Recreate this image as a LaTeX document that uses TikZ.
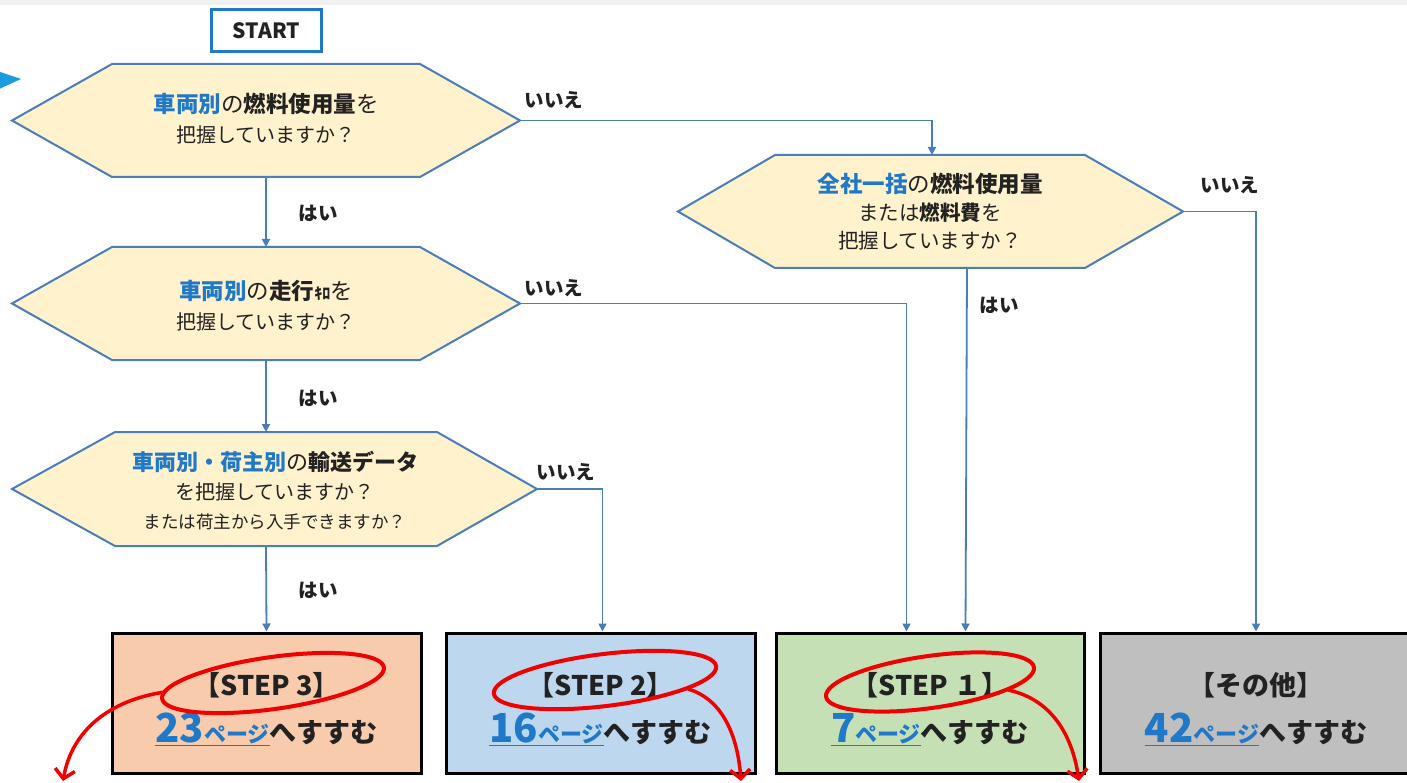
\documentclass[tikz,border=0pt]{standalone}
\usepackage{fontspec}
\setmainfont{Noto Sans CJK JP}
\usetikzlibrary{arrows.meta,calc}
\definecolor{cblue}{HTML}{1F78C8}
\definecolor{hexfill}{HTML}{FFF2CC}
\definecolor{hexline}{HTML}{4A7EBB}
\definecolor{connc}{HTML}{4A7EBB}
\definecolor{txt}{HTML}{222222}
\definecolor{stepthree}{HTML}{F8CBAD}
\definecolor{steptwo}{HTML}{BDD7EE}
\definecolor{stepone}{HTML}{C5E0B4}
\definecolor{stepother}{HTML}{BFBFBF}
\definecolor{redmark}{HTML}{F00000}
\definecolor{markblue}{HTML}{1A9BE0}
\newcommand{\pagelink}[1]{\textcolor{cblue}{\underline{{\fontsize{40}{40}\selectfont #1}{\fontsize{22}{22}\selectfont ページ}}}{\fontsize{27}{27}\selectfont へすすむ}}
\newcommand{\steptitle}[1]{\rule{0pt}{35pt}#1}
\begin{document}
\begin{tikzpicture}[x=1pt,y=-1pt,
  hexbox/.style={draw=hexline, fill=hexfill, line width=2pt, line join=miter},
  hextext/.style={align=center, text=txt, inner sep=0pt},
  conn/.style={draw=connc, line width=1.8pt, -{Triangle[length=8pt,width=8pt]}},
  lab/.style={text=txt, font=\fontsize{19.5}{19.5}\selectfont\bfseries, inner sep=0pt},
  stepbox/.style={draw=black, line width=3pt, minimum height=140pt, align=center, text=txt,
     font=\fontsize{27}{47}\selectfont\bfseries},
  redline/.style={draw=redmark, line width=4pt},
  redarrow/.style={draw=redmark, line width=3.5pt, -{Straight Barb[length=9pt,width=20pt]}}
]
\useasboundingbox (0,0) rectangle (1407,783);
\fill[white] (0,0) rectangle (1407,783);
\fill[black!6] (0,0) rectangle (1407,5);

% START
\node[draw=cblue, line width=3.5pt, minimum width=110pt, minimum height=42pt, inner sep=0pt,
  font=\fontsize{21}{21}\selectfont\bfseries, text=txt] (start) at (266.5,30.5) {START};

% blue marker
\fill[markblue] (-3,71) -- (21,79) -- (-3,90) -- cycle;

% Hexagon 1
\draw[hexbox] (12,120.5) -- (112,64) -- (420,64) -- (520,120.5) -- (420,177) -- (112,177) -- cycle;
\coordinate (h1r) at (520,120.5);
\coordinate (h1b) at (266,177);
\node[hextext, font=\fontsize{20}{30}\selectfont] (t1) at (266,119)
  {{\fontsize{22.5}{30}\selectfont\textcolor{cblue}{\bfseries 車両別}の{\bfseries 燃料使用量}を}\\
   把握していますか？};

% Hexagon 3 (second left)
\draw[hexbox] (12,303.5) -- (112,247) -- (420,247) -- (520,303.5) -- (420,360) -- (112,360) -- cycle;
\coordinate (h3t) at (266,247);
\coordinate (h3r) at (520,303.5);
\coordinate (h3b) at (266,360);
\node[hextext, font=\fontsize{20}{30}\selectfont] (t3) at (266,306)
  {{\fontsize{22.5}{30}\selectfont\textcolor{cblue}{\bfseries 車両別}の{\bfseries 走行}{\fontsize{16}{16}\selectfont\bfseries ｷﾛ}を}\\
   把握していますか？};

% Hexagon 4
\draw[hexbox] (12,489) -- (115,432) -- (437,432) -- (537,489) -- (437,546) -- (115,546) -- cycle;
\coordinate (h4t) at (266,432);
\coordinate (h4r) at (537,489);
\coordinate (h4b) at (266,546);
\node[hextext, font=\fontsize{20}{29}\selectfont] (t4) at (275,491)
  {{\fontsize{22}{29}\selectfont\textcolor{cblue}{\bfseries 車両別・荷主別}の{\bfseries 輸送データ}}\\
   を把握していますか？\\
   {\fontsize{17.5}{29}\selectfont または荷主から入手できますか？}};

% Hexagon 2 (right)
\draw[hexbox] (678,211.5) -- (775,155) -- (1085,155) -- (1183,211.5) -- (1085,268) -- (775,268) -- cycle;
\coordinate (h2t) at (932,155);
\coordinate (h2r) at (1183,211.5);
\coordinate (h2b) at (967,268);
\node[hextext, font=\fontsize{20.5}{28}\selectfont] (t2) at (930,212)
  {{\fontsize{22.5}{28}\selectfont\textcolor{cblue}{\bfseries 全社一括}の{\bfseries 燃料使用量}}\\
   または{\bfseries 燃料費}を\\
   把握していますか？};

% Result boxes
\node[stepbox, fill=stepthree, minimum width=309pt] (b1) at (266.5,703) {\steptitle{【STEP 3】}\\\pagelink{23}};
\node[stepbox, fill=steptwo, minimum width=309pt] (b2) at (600.5,703) {\steptitle{【STEP 2】}\\\pagelink{16}};
\node[stepbox, fill=stepone, minimum width=308pt] (b3) at (930,703) {\steptitle{【STEP １】}\\\pagelink{7}};
\node[stepbox, fill=stepother, minimum width=312pt] (b4) at (1256,703) {\steptitle{【その他】}\\\pagelink{42}};

\coordinate (b3a) at ([xshift=132pt]b3.north west);
\coordinate (b3b) at ([xshift=191pt]b3.north west);
\coordinate (b2a) at ([xshift=158pt]b2.north west);

% Connectors
\draw[conn] (h1b) -- (h3t);
\draw[conn] (h3b) -- (h4t);
\draw[conn] (h4b) -- (b1.north);
\draw[conn] (h1r) -| (h2t);
\draw[conn] (h3r) -| (b3a);
\draw[conn] (h2b) -- (b3b);
\draw[conn] (h2r) -| (b4.north);
\draw[conn] (h4r) -| (b2a);

% Labels
\node[lab] (y1) at (318,213) {はい};
\node[lab] (y2) at (318,398) {はい};
\node[lab] (y3) at (318,590) {はい};
\node[lab] (y4) at (999,305) {はい};
\node[lab] (n1) at (554,100) {いいえ};
\node[lab] (n2) at (554,288) {いいえ};
\node[lab] (n3) at (566,472) {いいえ};
\node[lab] (n4) at (1230,185) {いいえ};

% Red annotations
\draw[redline, rotate around={8:(273,683)}] (273,683) ellipse [x radius=112, y radius=26];
\draw[redline, rotate around={7:(605,680)}] (605,680) ellipse [x radius=112, y radius=26];
\draw[redline, rotate around={8:(930,682)}] (930,682) ellipse [x radius=105, y radius=26];
\coordinate (r1s) at (165,692);
\coordinate (r1e) at (63,781);
\coordinate (r2s) at (688,689);
\coordinate (r2e) at (741,781);
\coordinate (r3s) at (1008,690);
\coordinate (r3e) at (1079,781);
\draw[redarrow] (r1s) .. controls (110,700) and (72,730) .. (r1e);
\draw[redarrow] (r2s) .. controls (725,700) and (738,740) .. (r2e);
\draw[redarrow] (r3s) .. controls (1055,700) and (1073,740) .. (r3e);
\end{tikzpicture}
\end{document}
